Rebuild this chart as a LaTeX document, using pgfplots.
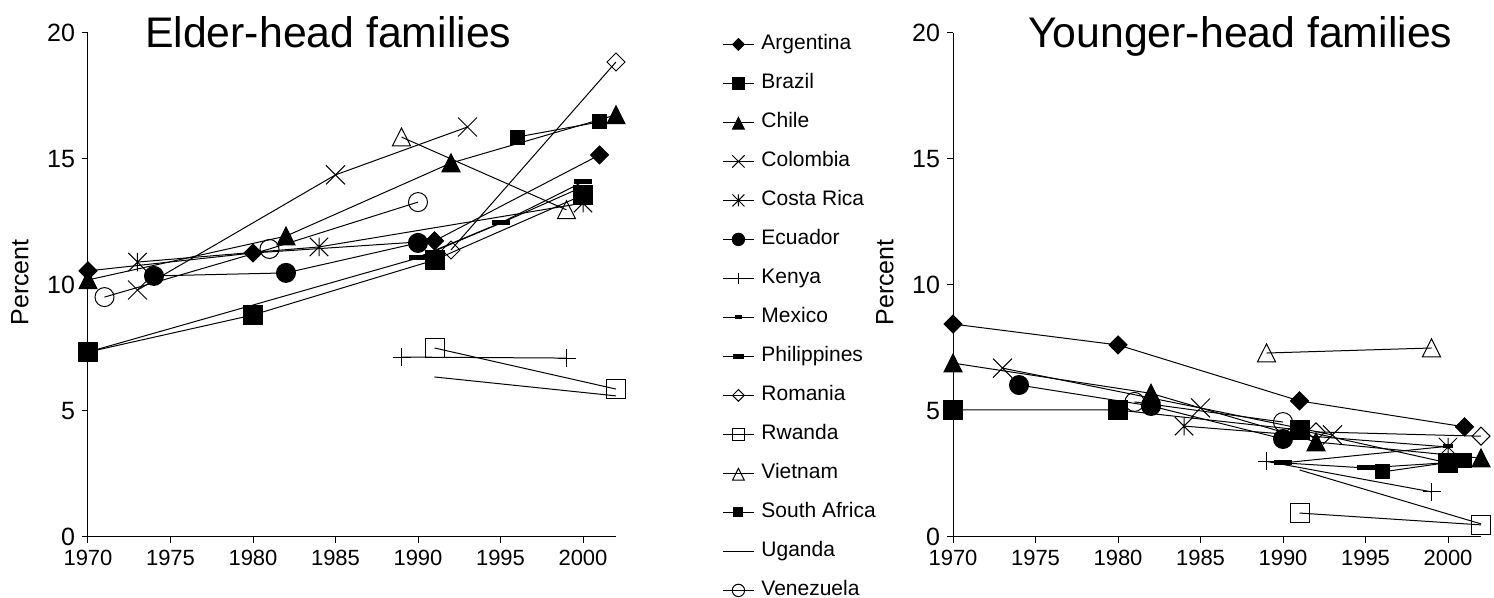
\documentclass[border=0pt]{standalone}
\usepackage{fontspec}
\setmainfont{Liberation Sans}
\usepackage{pgfplots}
\pgfplotsset{compat=1.18}
\usetikzlibrary{plotmarks}

% Excel-like asterisk: an x with a vertical stroke
\pgfdeclareplotmark{xast}{%
  \pgfpathmoveto{\pgfqpoint{-.7071\pgfplotmarksize}{-.7071\pgfplotmarksize}}%
  \pgfpathlineto{\pgfqpoint{.7071\pgfplotmarksize}{.7071\pgfplotmarksize}}%
  \pgfpathmoveto{\pgfqpoint{-.7071\pgfplotmarksize}{.7071\pgfplotmarksize}}%
  \pgfpathlineto{\pgfqpoint{.7071\pgfplotmarksize}{-.7071\pgfplotmarksize}}%
  \pgfpathmoveto{\pgfqpoint{0pt}{-.7071\pgfplotmarksize}}%
  \pgfpathlineto{\pgfqpoint{0pt}{.7071\pgfplotmarksize}}%
  \pgfusepathqstroke}

\pgfplotsset{
  country/.style={black, line width=0.5pt},
  argentina/.style={country, mark=diamond*, mark size=4.5pt, mark options={solid, fill=black, xscale=1.333}},
  brazil/.style={country, mark=square*, mark size=4.75pt, mark options={solid, fill=black}},
  chile/.style={country, mark=triangle*, mark size=5.2pt, mark options={solid, fill=black, yshift=-1.4pt, yscale=1.15}},
  colombia/.style={country, mark=x, mark size=6.7pt, mark options={solid}},
  costarica/.style={country, mark=xast, mark size=6.5pt, mark options={solid}},
  ecuador/.style={country, mark=*, mark size=4.75pt, mark options={solid, fill=black}},
  kenya/.style={country, mark=+, mark size=4.5pt, mark options={solid}},
  mexico/.style={country, mark=-, mark size=2.5pt, mark options={solid, line width=2pt}},
  philippines/.style={country, mark=-, mark size=4.5pt, mark options={solid, line width=2.5pt}},
  romania/.style={country, mark=diamond, mark size=4.5pt, mark options={solid, xscale=1.333}},
  rwanda/.style={country, mark=square, mark size=4.75pt, mark options={solid}},
  vietnam/.style={country, mark=triangle, mark size=5.2pt, mark options={solid, yshift=-1.4pt, yscale=1.15}},
  southafrica/.style={country, mark=square*, mark size=3.5pt, mark options={solid, fill=black}},
  uganda/.style={country, no markers},
  venezuela/.style={country, mark=o, mark size=4.75pt, mark options={solid}},
  panel/.style={
    width=264pt, height=252pt, scale only axis,
    xmin=1970, xmax=2002, ymin=0, ymax=20,
    xtick={1970,1975,...,2000}, ytick={0,5,...,20},
    axis lines*=left, axis line style={black, line width=0.5pt, -},
    tick align=outside, major tick length=3pt,
    tick style={black, line width=0.5pt},
    /pgf/number format/1000 sep={},
    /pgf/number format/assume math mode=true,
    x tick label style={font=\fontsize{11}{13}\selectfont},
    y tick label style={font=\fontsize{12.5}{14}\selectfont},
    ylabel={\fontsize{12.5}{14}\selectfont Percent},
    ylabel style={at={(axis description cs:-0.129,0.505)}, anchor=center},
    every axis title shift=0pt,
    title style={anchor=base, font=\fontsize{21.4}{25}\selectfont},
    clip=false,
  },
}

\begin{document}
\begin{tikzpicture}
\useasboundingbox (0,0) rectangle (747pt,299pt);

\begin{axis}[panel,
    at={(44pt,30.5pt)}, anchor=south west,
    title={Elder-head families},
    title style={at={(axis description cs:0.455,0.972)}},
    legend style={at={(axis description cs:1.2008,0.997)}, anchor=north west,
      draw=none, fill=none, inner sep=0pt, row sep=10pt, column sep=3.5pt,
      nodes={inner sep=0pt, text height=7.5pt, text depth=2pt, font=\fontsize{10.5}{12}\selectfont},
      cells={anchor=west}},
    legend image code/.code={\draw[mark repeat=2,mark phase=2,#1] plot coordinates {(0pt,0pt) (7.75pt,0pt) (15.5pt,0pt)};},
    legend image post style={every mark/.append style={scale=0.65}},
  ]
  \addplot[argentina] coordinates {(1970,10.56) (1980,11.27) (1991,11.75) (2001,15.16)};
  \addlegendentry{Argentina}
  \addplot[brazil] coordinates {(1970,7.34) (1980,8.81) (1991,10.99) (2000,13.57)};
  \addlegendentry{Brazil}
  \addplot[chile] coordinates {(1970,10.2) (1982,11.94) (1992,14.84) (2002,16.75)};
  \addlegendentry{Chile}
  \addplot[colombia] coordinates {(1973,9.8) (1985,14.37) (1993,16.27)};
  \addlegendentry{Colombia}
  \addplot[costarica] coordinates {(1973,10.91) (1984,11.51) (2000,13.25)};
  \addlegendentry{Costa Rica}
  \addplot[ecuador] coordinates {(1974,10.36) (1982,10.48) (1990,11.67)};
  \addlegendentry{Ecuador}
  \addplot[kenya] coordinates {(1989,7.14) (1999,7.1)};
  \addlegendentry{Kenya}
  \addplot[mexico] coordinates {(1970,7.34) (1990,11.07) (1995,12.45) (2000,13.9)};
  \addlegendentry{Mexico}
  \addplot[philippines] coordinates {(1990,11.1) (1995,12.46) (2000,14.09)};
  \addlegendentry{Philippines}
  \addplot[romania] coordinates {(1992,11.39) (2002,18.85)};
  \addlegendentry{Romania}
  \addplot[rwanda] coordinates {(1991,7.5) (2002,5.87)};
  \addlegendentry{Rwanda}
  \addplot[vietnam] coordinates {(1989,15.87) (1999,12.98)};
  \addlegendentry{Vietnam}
  \addplot[southafrica] coordinates {(1996,15.87) (2001,16.47)};
  \addlegendentry{South Africa}
  \addplot[uganda] coordinates {(1991,6.35) (2002,5.6)};
  \addlegendentry{Uganda}
  \addplot[venezuela] coordinates {(1971,9.52) (1981,11.43) (1990,13.29)};
  \addlegendentry{Venezuela}
\end{axis}

\begin{axis}[panel,
    at={(476.5pt,30.5pt)}, anchor=south west,
    title={Younger-head families},
    title style={at={(axis description cs:0.544,0.972)}},
  ]
  \addplot[argentina] coordinates {(1970,8.45) (1980,7.62) (1991,5.4) (2001,4.37)};
  \addplot[brazil] coordinates {(1970,5.04) (1980,5.04) (1991,4.25) (2000,2.94)};
  \addplot[chile] coordinates {(1970,6.9) (1982,5.7) (1992,3.77) (2002,3.13)};
  \addplot[colombia] coordinates {(1973,6.7) (1985,5.12) (1993,4.05)};
  \addplot[costarica] coordinates {(1984,4.4) (2000,3.57)};
  \addplot[ecuador] coordinates {(1974,6.03) (1982,5.2) (1990,3.89)};
  \addplot[kenya] coordinates {(1989,3.0) (1999,1.79)};
  \addplot[mexico] coordinates {(1990,2.94) (2000,3.6)};
  \addplot[philippines] coordinates {(1990,2.94) (1995,2.74) (2000,2.95)};
  \addplot[romania] coordinates {(1992,4.17) (2002,4.0)};
  \addplot[rwanda] coordinates {(1991,0.95) (2002,0.48)};
  \addplot[vietnam] coordinates {(1989,7.3) (1999,7.5)};
  \addplot[southafrica] coordinates {(1996,2.58) (2001,3.05)};
  \addplot[uganda] coordinates {(1991,2.66) (2002,0.52)};
  \addplot[venezuela] coordinates {(1981,5.36) (1990,4.56)};
\end{axis}
\end{tikzpicture}
\end{document}
